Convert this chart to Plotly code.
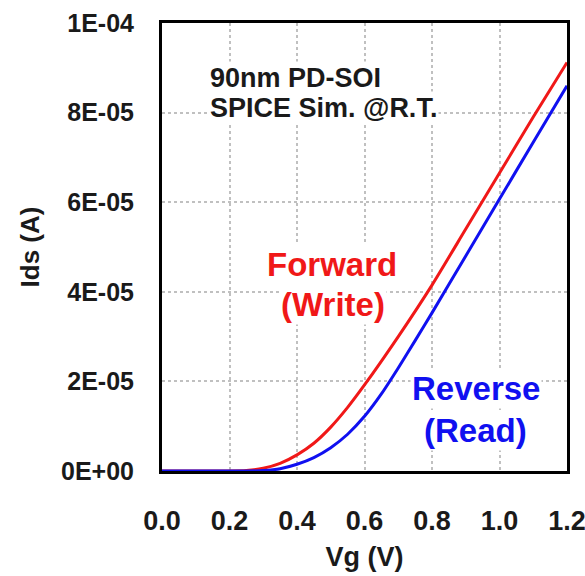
import plotly.graph_objects as go

# Forward (Write) curve
vg_fwd = [0.0, 0.1, 0.2, 0.25, 0.3, 0.35, 0.4, 0.45, 0.5, 0.55, 0.6, 0.7, 0.8, 0.9, 1.0, 1.1, 1.2]
ids_fwd = [0, 0, 0, 0.01e-5, 0.06e-5, 0.17e-5, 0.36e-5, 0.62e-5, 0.98e-5, 1.42e-5, 1.92e-5,
           3.0e-5, 4.15e-5, 5.4e-5, 6.65e-5, 7.9e-5, 9.12e-5]

# Reverse (Read) curve
vg_rev = [0.0, 0.1, 0.2, 0.25, 0.3, 0.35, 0.4, 0.45, 0.5, 0.55, 0.6, 0.65, 0.7, 0.75, 0.8, 0.9, 1.0, 1.1, 1.2]
ids_rev = [0, 0, 0, 0, 0.01e-5, 0.05e-5, 0.15e-5, 0.3e-5, 0.52e-5, 0.82e-5, 1.22e-5, 1.72e-5,
           2.3e-5, 2.91e-5, 3.53e-5, 4.8e-5, 6.07e-5, 7.34e-5, 8.6e-5]

x_ticks = [0.0, 0.2, 0.4, 0.6, 0.8, 1.0, 1.2]
x_ticktext = ["0.0", "0.2", "0.4", "0.6", "0.8", "1.0", "1.2"]
y_ticks = [0, 2e-5, 4e-5, 6e-5, 8e-5, 1e-4]
y_ticktext = ["0E+00", "2E-05", "4E-05", "6E-05", "8E-05", "1E-04"]

FONT = "Liberation Sans, Arial, sans-serif"
RED = "#f01818"
BLUE = "#1010f0"

fig = go.Figure()
fig.add_trace(go.Scatter(x=vg_fwd, y=ids_fwd, mode="lines", name="Forward (Write)",
                         line=dict(color=RED, width=3, shape="spline", smoothing=0.6)))
fig.add_trace(go.Scatter(x=vg_rev, y=ids_rev, mode="lines", name="Reverse (Read)",
                         line=dict(color=BLUE, width=3, shape="spline", smoothing=0.6)))

axis_common = dict(showline=True, linecolor="black", linewidth=3, mirror=True,
                   showgrid=True, gridcolor="#c0c0c0", gridwidth=1.5, griddash="dot",
                   zeroline=False, ticks="", automargin=False)

fig.update_xaxes(range=[0, 1.2000001], tickvals=x_ticks, ticktext=x_ticktext,
                 tickfont=dict(family=FONT, size=27, color="#1a1a1a", weight="bold"),
                 ticklabelstandoff=24, ticklabeloverflow="allow",
                 title=dict(text="Vg (V)", font=dict(family=FONT, size=27, color="#1a1a1a", weight="bold"),
                            standoff=12),
                 **axis_common)
fig.update_yaxes(range=[0, 1e-4], tickvals=y_ticks, ticktext=y_ticktext,
                 tickfont=dict(family=FONT, size=25, color="#1a1a1a", weight="bold"),
                 ticklabelstandoff=20,
                 title=dict(text="Ids (A)", font=dict(family=FONT, size=26, color="#1a1a1a", weight="bold"),
                            standoff=14),
                 **axis_common)

def ann(text, x, y, color, size, xanchor="center"):
    fig.add_annotation(text=text, x=x, y=y, xref="paper", yref="paper", showarrow=False,
                       xanchor=xanchor, yanchor="middle", bgcolor="white", borderpad=1,
                       font=dict(family=FONT, size=size, color=color, weight="bold"))

# paper coords: plot x 162..567 (405 px), y 23..471 (448 px)
def px(xp):
    return (xp - 162) / 405.0

def py(yp):
    return (471 - yp) / 448.0

ann("90nm PD-SOI", px(208), py(78), "#1a1a1a", 27, "left")
ann("SPICE Sim. @R.T.", px(208), py(108), "#1a1a1a", 27, "left")
ann("Forward", px(332), py(264), RED, 33)
ann("(Write)", px(333), py(304), RED, 33)
ann("Reverse", px(476), py(388), BLUE, 33)
ann("(Read)", px(475), py(430), BLUE, 33)

fig.update_layout(width=585, height=576, margin=dict(l=162, r=18, t=23, b=105),
                  paper_bgcolor="white", plot_bgcolor="white", showlegend=False)

fig.write_html("out.html")
